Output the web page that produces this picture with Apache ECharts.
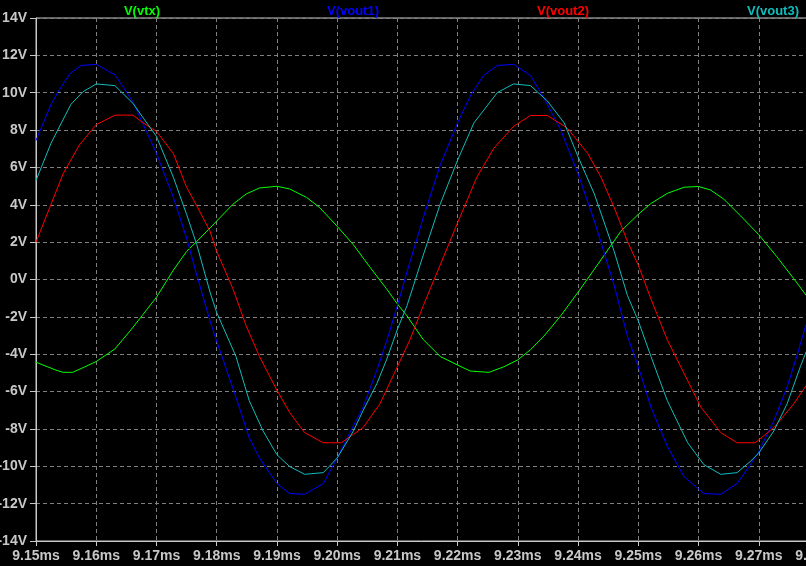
<!DOCTYPE html>
<html>
<head>
<meta charset="utf-8">
<script src="https://cdn.jsdelivr.net/npm/echarts@6/dist/echarts.min.js"></script>
<style>
html,body{margin:0;padding:0;background:#000;}
#chart{width:806px;height:566px;}
</style>
</head>
<body>
<div id="chart"></div>
<script>
// ---- data (time in ms, voltage in V) ----
const seriesNames = ['V(vtx)', 'V(vout1)', 'V(vout2)', 'V(vout3)'];

const vtxT = [9.15, 9.1533, 9.1545, 9.1561, 9.1578, 9.16, 9.1631, 9.1656, 9.1678, 9.17, 9.1728, 9.175, 9.1767, 9.1789, 9.18,
  9.1827, 9.1849, 9.1871, 9.19, 9.1921, 9.1949, 9.1971, 9.20, 9.2027, 9.2054, 9.2082, 9.21, 9.2116,
  9.2143, 9.2171, 9.22, 9.2221, 9.2252, 9.2277, 9.23, 9.2321, 9.2343, 9.2371, 9.24, 9.2427,
  9.2471, 9.25, 9.2521, 9.2548, 9.2576, 9.26, 9.2620, 9.2642, 9.2670, 9.27, 9.2730, 9.2758, 9.2779];
const vtxV = [-4.43, -4.85, -4.97, -4.97, -4.72, -4.39, -3.72, -2.76, -1.86, -0.95, 0.5, 1.5, 2.04, 2.76, 3.13,
  4.03, 4.58, 4.9, 4.99, 4.85, 4.4, 3.85, 2.85, 1.86, 0.68, -0.5, -1.31, -1.95,
  -3.22, -4.12, -4.58, -4.9, -4.97, -4.67, -4.3, -3.76, -3.04, -1.95, -0.68, 0.55,
  2.58, 3.49, 4.07, 4.61, 4.94, 4.98, 4.79, 4.3, 3.4, 2.4, 1.22, 0.05, -0.86];

const vout1T = [9.15, 9.1525, 9.1536, 9.1556, 9.1575, 9.16, 9.1631, 9.1661, 9.17, 9.1728, 9.175, 9.1767, 9.1789, 9.18,
  9.1832, 9.1854, 9.1871, 9.19, 9.1921, 9.1946, 9.1977, 9.20, 9.2021, 9.2043, 9.2066, 9.2082, 9.21, 9.2116,
  9.2143, 9.2171, 9.22, 9.2221, 9.2243, 9.2266, 9.2293, 9.2321, 9.2343, 9.2371, 9.24, 9.2427,
  9.2460, 9.2482, 9.25, 9.2521, 9.2548, 9.2576, 9.2609, 9.2637, 9.2664, 9.2686, 9.27, 9.2725, 9.2747, 9.2763, 9.2779];
const vout1V = [7.44, 9.38, 10.01, 11.01, 11.46, 11.52, 10.96, 9.51, 6.75, 4.4, 2.22, 0.23, -2.22, -3.31,
  -6.3, -8.47, -9.56, -10.92, -11.46, -11.5, -10.92, -9.56, -8.2, -6.84, -4.85, -3.31, -1.4, 0.41,
  3.31, 6.12, 8.38, 9.83, 10.92, 11.46, 11.52, 10.92, 9.74, 8.02, 5.66, 3.13,
  -0.32, -3.04, -4.67, -6.84, -8.92, -10.56, -11.46, -11.5, -10.92, -9.92, -9.2, -7.57, -5.75, -4.12, -2.35];

const vout2T = [9.15, 9.1525, 9.1545, 9.1572, 9.16, 9.1631, 9.1661, 9.1678, 9.17, 9.1728, 9.175, 9.1767, 9.1789, 9.18,
  9.1827, 9.1849, 9.1871, 9.19, 9.1921, 9.1946, 9.1977, 9.2007, 9.2027, 9.2043, 9.2071, 9.21, 9.2121,
  9.2143, 9.2171, 9.22, 9.2232, 9.2260, 9.2293, 9.2321, 9.2349, 9.2382, 9.2416, 9.2438,
  9.2460, 9.2482, 9.25, 9.2521, 9.2548, 9.2576, 9.2604, 9.2637, 9.2664, 9.2694, 9.2725, 9.2758, 9.2779];
const vout2V = [2.0, 4.03, 5.66, 7.2, 8.29, 8.8, 8.8, 8.38, 7.93, 6.75, 4.94, 3.94, 2.58, 1.5,
  -0.5, -2.49, -4.12, -5.93, -7.11, -8.2, -8.74, -8.74, -8.29, -7.93, -6.66, -4.67, -3.22,
  -1.4, 0.77, 3.04, 5.48, 7.02, 8.2, 8.78, 8.78, 8.11, 6.75, 5.48,
  3.85, 2.04, 0.77, -1.04, -3.22, -5.03, -6.84, -8.2, -8.74, -8.74, -7.93, -6.66, -5.66];

const vout3T = [9.15, 9.1525, 9.1558, 9.1578, 9.16, 9.1631, 9.1661, 9.1678, 9.17, 9.1728, 9.175, 9.1767, 9.1789, 9.18,
  9.1832, 9.1854, 9.1877, 9.19, 9.1921, 9.1946, 9.1977, 9.20, 9.2027, 9.2043, 9.2066, 9.2082, 9.21, 9.2116,
  9.2143, 9.2171, 9.22, 9.2227, 9.2266, 9.2293, 9.2321, 9.2349, 9.2377, 9.24, 9.2427,
  9.2460, 9.2482, 9.25, 9.2521, 9.2548, 9.2582, 9.2609, 9.2637, 9.2664, 9.2686, 9.27, 9.2725, 9.2747, 9.2769, 9.2779];
const vout3V = [5.3, 7.3, 9.38, 10.05, 10.47, 10.38, 9.43, 8.65, 7.66, 5.48, 3.49, 1.86, -0.68, -1.77,
  -4.12, -6.48, -8.11, -9.38, -10.01, -10.43, -10.34, -9.56, -8.11, -7.02, -5.57, -4.3, -2.67, -1.4,
  1.31, 4.03, 6.39, 8.38, 10.01, 10.47, 10.38, 9.56, 8.38, 6.57, 4.58,
  1.5, -0.86, -2.22, -4.12, -6.48, -8.74, -9.92, -10.43, -10.34, -9.74, -9.29, -8.11, -6.66, -4.67, -3.85];

const xMin = 9.15, xMax = 9.28, xStep = 0.01;
const yMin = -14, yMax = 14, yStep = 2;

// ---- styling ----
const colors = ['#00ff00', '#0000ff', '#ff0000', '#10bcbc'];
const titleX = [137, 348, 558, 768];
const axisGray = '#c8c8c8';
const gridGray = '#808080';
const font = '"Liberation Sans", Arial, sans-serif';

function zip(t, v) { return t.map((x, i) => [x, v[i]]); }
const dataSets = [zip(vtxT, vtxV), zip(vout1T, vout1V), zip(vout2T, vout2V), zip(vout3T, vout3V)];

const chart = echarts.init(document.getElementById('chart'), null, { renderer: 'canvas' });
chart.setOption({
  backgroundColor: '#000',
  animation: false,
  title: seriesNames.map((n, i) => ({
    text: n, left: titleX[i], top: 0, textAlign: 'center',
    textStyle: { color: colors[i], fontSize: 13, fontWeight: 'bold', fontFamily: font }
  })),
  grid: { left: 36, top: 18, right: -13, bottom: 25, containLabel: false, outerBoundsMode: 'none',
    show: true, borderColor: axisGray, borderWidth: 1, backgroundColor: '#000' },
  xAxis: {
    type: 'value', min: xMin, max: xMax, interval: xStep,
    axisLine: { show: true, onZero: false, lineStyle: { color: axisGray, width: 1 } },
    axisTick: { show: true, length: 5, lineStyle: { color: axisGray } },
    axisLabel: { color: axisGray, fontSize: 14, fontWeight: 'bold', fontFamily: font, margin: 8,
      formatter: v => v.toFixed(2) + 'ms', showMaxLabel: true, showMinLabel: true, hideOverlap: false },
    splitLine: { show: true, lineStyle: { color: gridGray, type: [4, 3], width: 1 } }
  },
  yAxis: {
    type: 'value', min: yMin, max: yMax, interval: yStep,
    axisLine: { show: true, onZero: false, lineStyle: { color: axisGray, width: 1 } },
    axisTick: { show: true, length: 6, lineStyle: { color: axisGray } },
    axisLabel: { color: axisGray, fontSize: 14, fontWeight: 'bold', fontFamily: font, margin: 9,
      formatter: v => v + 'V' },
    splitLine: { show: true, lineStyle: { color: gridGray, type: [4, 3], width: 1 } }
  },
  series: seriesNames.map((n, i) => ({
    name: n, type: 'line', data: dataSets[i], showSymbol: false, symbol: 'none',
    lineStyle: { color: colors[i], width: 1 }, itemStyle: { color: colors[i] }, smooth: false
  }))
});
</script>
</body>
</html>
